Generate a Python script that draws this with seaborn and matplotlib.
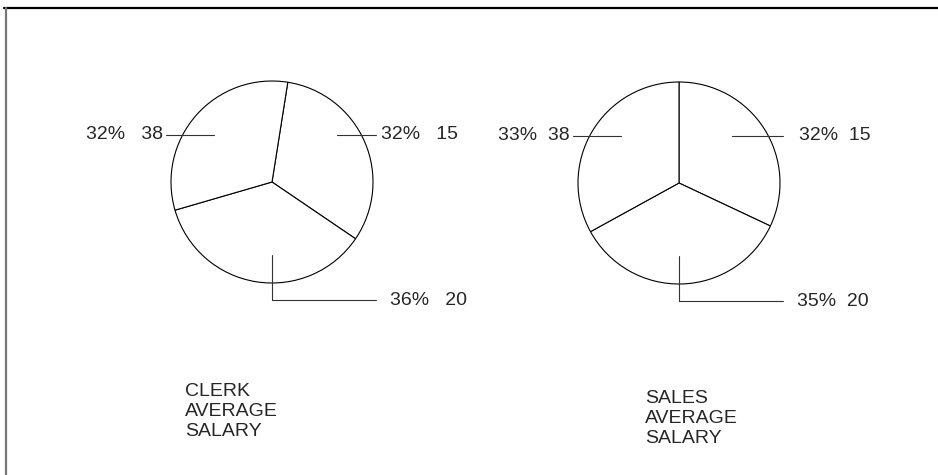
import numpy as np
import matplotlib.pyplot as plt
import seaborn as sns

# department numbers and share of the average salary (per job)
departments = [15, 20, 38]
clerk_pct = [32, 36, 32]
sales_pct = [32, 35, 33]
titles = ['CLERK\nAVERAGE\nSALARY', 'SALES\nAVERAGE\nSALARY']

sns.set_theme(style='white')
plt.rcParams['font.family'] = ['Liberation Sans', 'DejaVu Sans']

W, H = 938, 475
R = 101


def draw_pie(ax, values, center, start, gap, title, title_xy, inner, right_pad):
    cx, cy = center
    wedges, _ = ax.pie(values, center=center, radius=R, startangle=start,
                       counterclock=False, colors=['white'] * len(values),
                       wedgeprops=dict(edgecolor='black', linewidth=0.8))
    for w, dept, pct in zip(wedges, departments, values):
        mid = np.deg2rad((w.theta1 + w.theta2) / 2)
        label = f'{pct}%{gap}{dept}'
        if np.sin(mid) < -0.7:
            # bottom slice: elbow leader
            x0, y0 = cx, cy - 0.72 * R
            y1 = cy - 1.17 * R
            x1 = cx + 1.03 * R
            ax.plot([x0, x0, x1], [y0, y1, y1], color='#333333', lw=0.8)
            ax.text(x1 + 0.14 * R, y1, label, ha='left', va='center', fontsize=14)
        elif np.cos(mid) > 0:
            y0 = cy + 0.47 * R
            x0 = cx + inner * R
            x1 = cx + 1.03 * R
            ax.plot([x0, x1], [y0, y0], color='#333333', lw=0.8)
            ax.text(x1 + right_pad * R, y0, label, ha='left', va='center', fontsize=14)
        else:
            y0 = cy + 0.47 * R
            x0 = cx - 0.57 * R
            x1 = cx - 1.05 * R
            ax.plot([x0, x1], [y0, y0], color='#333333', lw=0.8)
            ax.text(x1 - 0.03 * R, y0, label, ha='right', va='center', fontsize=14)
    ax.text(title_xy[0], title_xy[1], title, ha='left', va='top',
            fontsize=14, linespacing=1.22)


fig = plt.figure(figsize=(W / 100, H / 100), dpi=100)
ax = fig.add_axes([0, 0, 1, 1])

draw_pie(ax, clerk_pct, (272, H - 182), 81, '   ', titles[0], (185, H - 383), 0.64, 0.05)
draw_pie(ax, sales_pct, (679, H - 183), 90, '  ', titles[1], (645, H - 390), 0.52, 0.16)

# frame lines of the report page
ax.plot([4, W], [H - 8, H - 8], color='black', lw=1.6)
ax.plot([6, 6], [0, H - 8], color='#777777', lw=1.6)

ax.set_xlim(0, W)
ax.set_ylim(0, H)
ax.set_aspect('auto')
ax.axis('off')

fig.savefig('out.png', dpi=100)
